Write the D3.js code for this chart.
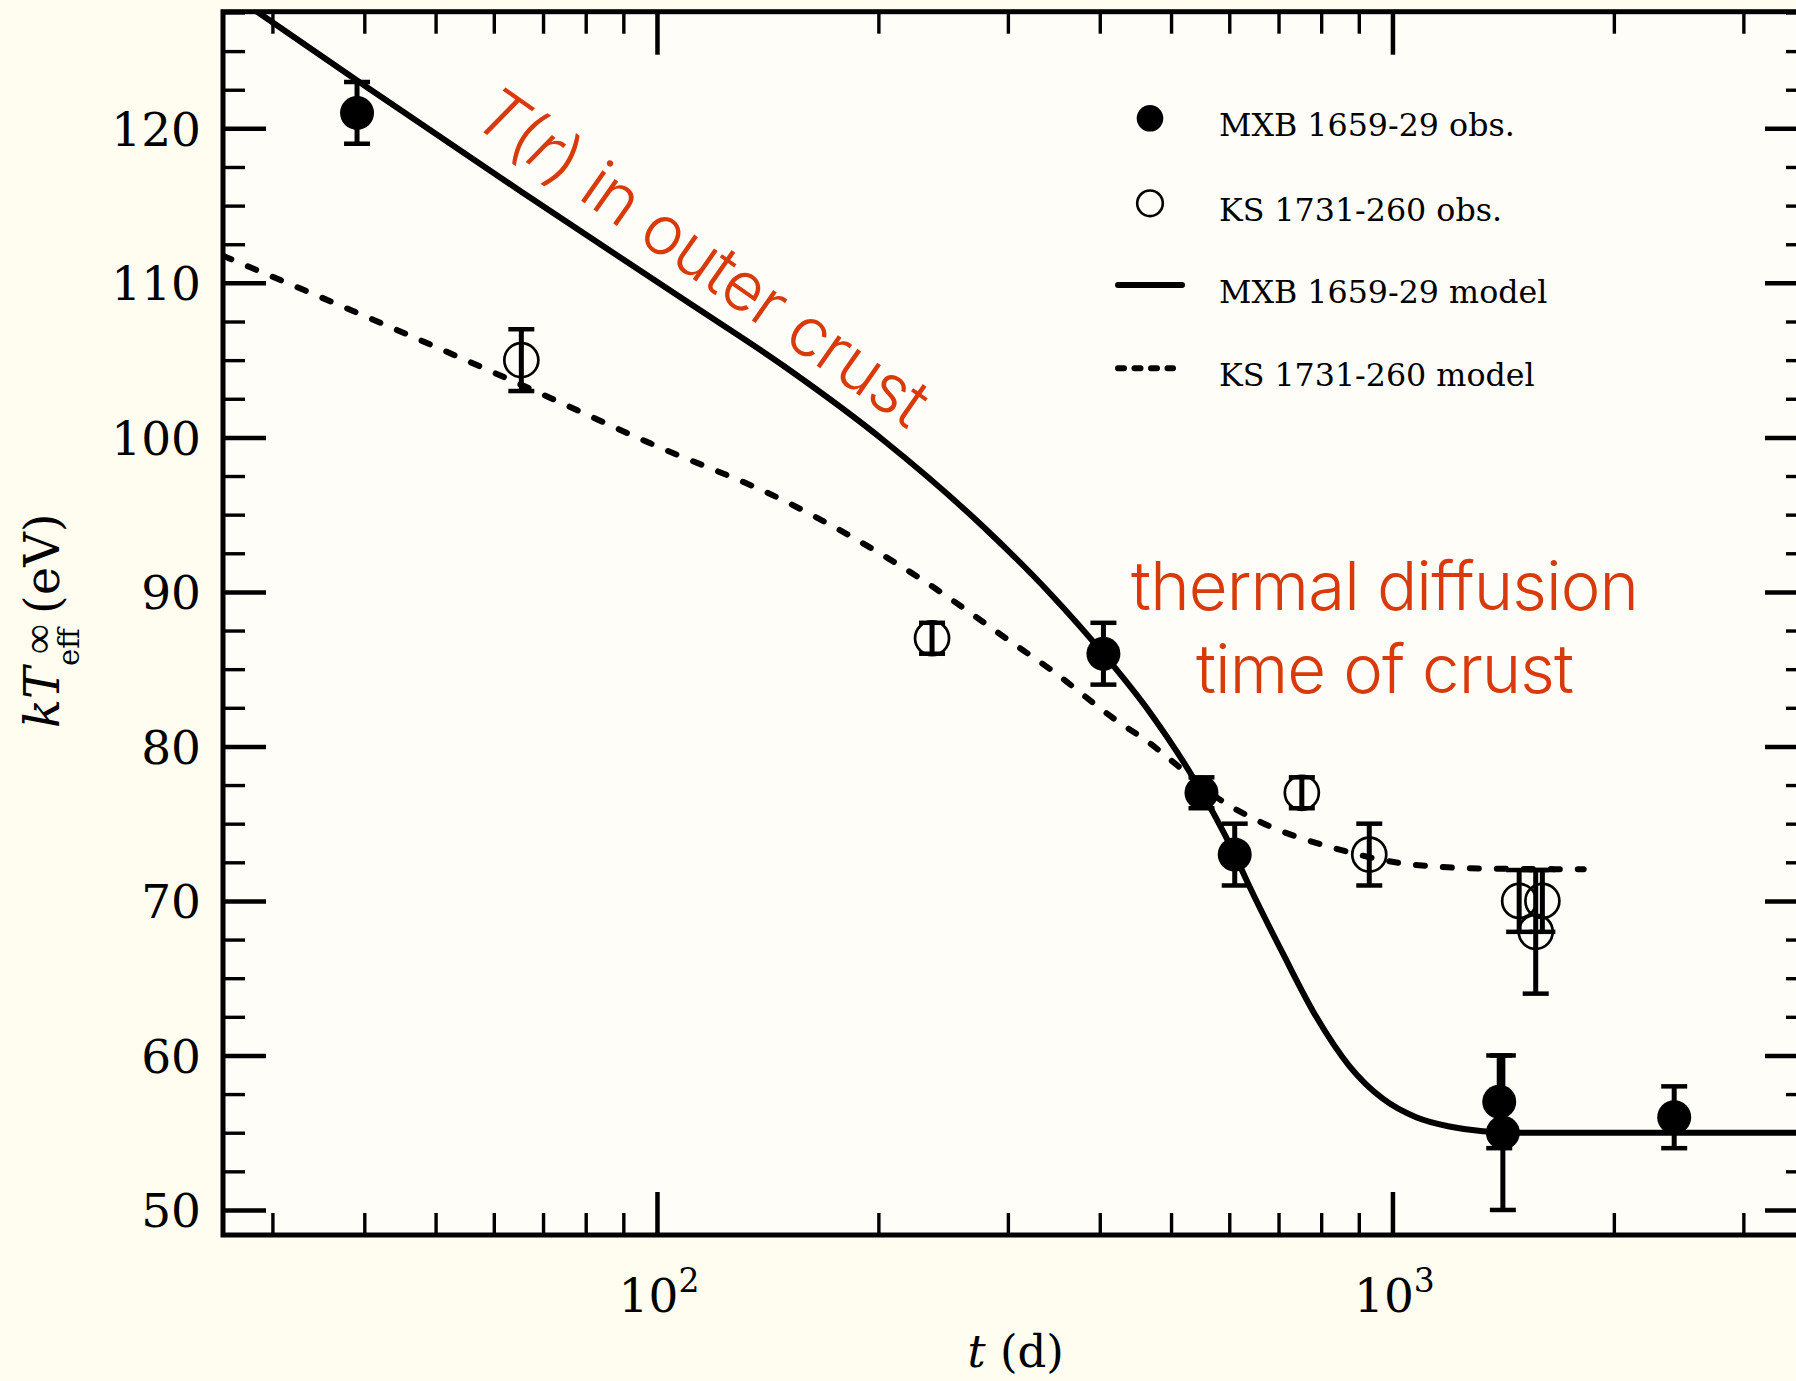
<!DOCTYPE html>
<html><head><meta charset="utf-8">
<script src="https://cdn.jsdelivr.net/npm/d3@7"></script>
<style>
html,body{margin:0;padding:0;background:#fffdf0;}
svg{display:block;}
</style></head><body>
<svg id="chart" width="1796" height="1381"></svg>
<script>
// ---------------- data ----------------
const mxbDays  = [39.1, 404.6, 550, 610.3, 1397, 1413, 2416];
const mxbKT    = [121, 86, 77, 73, 57, 55, 56];
const mxbLow   = [119, 84, 76, 71, 54, 50, 54];
const mxbHigh  = [123, 88, 78, 75, 60, 60, 58];

const ksDays   = [65.4, 236.6, 753, 930, 1487, 1599, 1566];
const ksKT     = [105, 87, 77, 73, 70, 70, 68];
const ksLow    = [103, 86, 76, 71, 68, 68, 64];
const ksHigh   = [107, 88, 78, 75, 72, 72, 72];

const mxbModelDays = [25.7, 28.7, 39.1, 65.4, 108.9, 148.9, 203.4, 278, 342.4, 404.6, 468, 535.4, 610.3, 639.7, 709.6, 787.8, 874.4, 970.3, 1077, 1195, 1327, 1500, 2000, 3000, 3700];
const mxbModelKT   = [129.1, 127.5, 123.1, 115.9, 108.9, 104.6, 99.8, 94.2, 89.9, 86.0, 82.2, 78.0, 73.0, 70.9, 66.6, 62.5, 59.3, 57.2, 56.0, 55.4, 55.1, 55.0, 55.0, 55.0, 55.0];

const ksModelDays = [25.7, 43.1, 65.4, 98.1, 148.9, 225.8, 308.6, 342.4, 418, 468, 512, 577, 669, 836, 1045, 1326, 1820];
const ksModelKT   = [111.75, 107.2, 103.4, 99.6, 95.9, 91.0, 86.5, 85.0, 81.8, 80.2, 78.7, 76.7, 75.0, 73.4, 72.4, 72.1, 72.05];

const yMajorTicks = [50, 60, 70, 80, 90, 100, 110, 120];
const xMajorTicks = [100, 1000];
const xTickExponents = ["2", "3"];
const xMinorTicks = [30, 40, 50, 60, 70, 80, 90, 200, 300, 400, 500, 600, 700, 800, 900, 2000, 3000];

const legendLabels = ["MXB 1659-29 obs.", "KS 1731-260 obs.", "MXB 1659-29 model", "KS 1731-260 model"];
const annotationDiffusion = ["thermal diffusion", "time of crust"];

// ---------------- layout ----------------
const L = 223, R = 1808, TOP = 11.7, BOT = 1235;
const xDomain = [25.7, 3673];
const yDomain = [48.38, 127.55];
const serif = "'DejaVu Serif', 'Liberation Serif', serif";
const sans = "Inter, Roboto, 'Liberation Sans', sans-serif";
const red = "#d93a0b";

const svg = d3.select("#chart");
const x = d3.scaleLog().domain(xDomain).range([L, R]);
const y = d3.scaleLinear().domain(yDomain).range([BOT, TOP]);

svg.append("rect").attr("x", 0).attr("y", 0).attr("width", 1796).attr("height", 1381).attr("fill", "#fffdf0");
svg.append("rect").attr("x", L).attr("y", TOP).attr("width", R - L).attr("height", BOT - TOP).attr("fill", "#fefdf8");

svg.append("clipPath").attr("id", "plotclip").append("rect")
  .attr("x", L).attr("y", TOP).attr("width", R - L).attr("height", BOT - TOP);

const plot = svg.append("g").attr("clip-path", "url(#plotclip)");

const line = d3.line().x(d => x(d[0])).y(d => y(d[1])).curve(d3.curveMonotoneX);

plot.append("path")
  .datum(mxbModelDays.map((t, i) => [t, mxbModelKT[i]]))
  .attr("d", line).attr("fill", "none").attr("stroke", "#000").attr("stroke-width", 6);

plot.append("path")
  .datum(ksModelDays.map((t, i) => [t, ksModelKT[i]]))
  .attr("d", line).attr("fill", "none").attr("stroke", "#000").attr("stroke-width", 6)
  .attr("stroke-linecap", "round").attr("stroke-dasharray", "9,18");

// error bars + markers
function errorBars(days, lo, hi) {
  const g = plot.append("g");
  days.forEach((t, i) => {
    const cx = x(t);
    g.append("line").attr("x1", cx).attr("x2", cx).attr("y1", y(lo[i])).attr("y2", y(hi[i]))
      .attr("stroke", "#000").attr("stroke-width", 5);
    [lo[i], hi[i]].forEach(v => {
      g.append("line").attr("x1", cx - 13).attr("x2", cx + 13).attr("y1", y(v)).attr("y2", y(v))
        .attr("stroke", "#000").attr("stroke-width", 4.5);
    });
  });
}
errorBars(mxbDays, mxbLow, mxbHigh);
errorBars(ksDays, ksLow, ksHigh);

plot.append("g").selectAll("circle").data(mxbDays).join("circle")
  .attr("cx", d => x(d)).attr("cy", (d, i) => y(mxbKT[i])).attr("r", 17).attr("fill", "#000");
plot.append("g").selectAll("circle").data(ksDays).join("circle")
  .attr("cx", d => x(d)).attr("cy", (d, i) => y(ksKT[i])).attr("r", 17)
  .attr("fill", "none").attr("stroke", "#000").attr("stroke-width", 2.7);

// ---------------- annotations ----------------
const ann = svg.append("g").attr("transform", "translate(470,123) rotate(35)");
const at = ann.append("text").attr("x", 0).attr("y", 0)
  .attr("font-family", sans).attr("font-weight", 300).attr("font-size", 68).attr("fill", red)
  .attr("textLength", 535);
at.append("tspan").attr("font-style", "italic").text("T");
at.append("tspan").text("(");
at.append("tspan").attr("font-style", "italic").text("r");
at.append("tspan").text(") in outer crust");

annotationDiffusion.forEach((s, i) => {
  svg.append("text").attr("x", 1385).attr("y", i === 0 ? 610 : 692.7)
    .attr("text-anchor", "middle").attr("font-family", sans).attr("font-weight", 300)
    .attr("font-size", 67).attr("fill", red)
    .attr("textLength", i === 0 ? 508 : 378)
    .text(s);
});

// ---------------- legend ----------------
const legRows = [118.3, 203.3, 285, 368.3];
const leg = svg.append("g");
leg.append("circle").attr("cx", 1150).attr("cy", legRows[0]).attr("r", 13.3).attr("fill", "#000");
leg.append("circle").attr("cx", 1150).attr("cy", legRows[1]).attr("r", 12.8).attr("fill", "none")
  .attr("stroke", "#000").attr("stroke-width", 2.6);
leg.append("line").attr("x1", 1118).attr("x2", 1182).attr("y1", legRows[2]).attr("y2", legRows[2])
  .attr("stroke", "#000").attr("stroke-width", 6).attr("stroke-linecap", "round");
leg.append("line").attr("x1", 1118).attr("x2", 1173).attr("y1", legRows[3]).attr("y2", legRows[3])
  .attr("stroke", "#000").attr("stroke-width", 6).attr("stroke-linecap", "round")
  .attr("stroke-dasharray", "6,10.5");
legendLabels.forEach((s, i) => {
  leg.append("text").attr("x", 1219).attr("y", legRows[i] + 17.5)
    .attr("font-family", serif).attr("font-size", 31.7).attr("fill", "#000").text(s);
});

// ---------------- axes ----------------
const minorYAll = d3.range(47.5, 127.6, 2.5).filter(v => v % 10 !== 0 && v >= yDomain[0] && v <= yDomain[1]);

function styleAxis(g, w) {
  g.select(".domain").remove();
  g.selectAll(".tick line").attr("stroke", "#000").attr("stroke-width", w);
}

// left major
svg.append("g").attr("transform", `translate(${L},0)`)
  .call(d3.axisLeft(y).tickValues(yMajorTicks).tickSizeInner(-43).tickSizeOuter(0).tickPadding(22).tickFormat(d3.format("d")))
  .call(g => { styleAxis(g, 4.5);
    g.selectAll(".tick text").attr("font-family", serif).attr("font-size", 47).attr("fill", "#000").attr("dy", "0.36em"); });
// left minor
svg.append("g").attr("transform", `translate(${L},0)`)
  .call(d3.axisLeft(y).tickValues(minorYAll).tickSizeInner(-22).tickSizeOuter(0).tickFormat(""))
  .call(g => styleAxis(g, 3.4));
// right
svg.append("g").attr("transform", `translate(${R},0)`)
  .call(d3.axisRight(y).tickValues(yMajorTicks).tickSizeInner(-43).tickSizeOuter(0).tickFormat(""))
  .call(g => styleAxis(g, 4.5));
svg.append("g").attr("transform", `translate(${R},0)`)
  .call(d3.axisRight(y).tickValues(minorYAll).tickSizeInner(-22).tickSizeOuter(0).tickFormat(""))
  .call(g => styleAxis(g, 3.4));
// bottom
svg.append("g").attr("transform", `translate(0,${BOT})`)
  .call(d3.axisBottom(x).tickValues(xMajorTicks).tickSizeInner(-43).tickSizeOuter(0).tickFormat(""))
  .call(g => styleAxis(g, 4.5));
svg.append("g").attr("transform", `translate(0,${BOT})`)
  .call(d3.axisBottom(x).tickValues(xMinorTicks).tickSizeInner(-22).tickSizeOuter(0).tickFormat(""))
  .call(g => styleAxis(g, 3.4));
// top
svg.append("g").attr("transform", `translate(0,${TOP})`)
  .call(d3.axisTop(x).tickValues(xMajorTicks).tickSizeInner(-43).tickSizeOuter(0).tickFormat(""))
  .call(g => styleAxis(g, 4.5));
svg.append("g").attr("transform", `translate(0,${TOP})`)
  .call(d3.axisTop(x).tickValues(xMinorTicks).tickSizeInner(-22).tickSizeOuter(0).tickFormat(""))
  .call(g => styleAxis(g, 3.4));

// x tick labels 10^n
xMajorTicks.forEach((t, i) => {
  const tx = svg.append("text").attr("x", x(t) + 2).attr("y", 1311.7).attr("text-anchor", "middle")
    .attr("font-family", serif).attr("font-size", 47).attr("fill", "#000");
  tx.append("tspan").text("10");
  tx.append("tspan").attr("dy", -20).attr("font-size", 33).text(xTickExponents[i]);
});

// frame
svg.append("rect").attr("x", L).attr("y", TOP).attr("width", R - L).attr("height", BOT - TOP)
  .attr("fill", "none").attr("stroke", "#000").attr("stroke-width", 5);

// axis titles
const xt = svg.append("text").attr("x", 1015.7).attr("y", 1367).attr("text-anchor", "middle")
  .attr("font-family", serif).attr("font-size", 45).attr("fill", "#000");
xt.append("tspan").attr("font-style", "italic").text("t");
xt.append("tspan").text(" (d)");

const gy = svg.append("g").attr("transform", "translate(58.5,728) rotate(-90)");
const kT = gy.append("text").attr("x", 0).attr("y", 0).attr("font-family", serif).attr("font-size", 48)
  .attr("font-style", "italic").attr("fill", "#000").text("kT");
let u = kT.node().getComputedTextLength() + 1;
const sub = gy.append("text").attr("x", u).attr("y", 20).attr("font-family", serif).attr("font-size", 29)
  .attr("fill", "#000").text("eff");
const subLen = sub.node().getComputedTextLength();
const sup = gy.append("text").attr("x", u + 12).attr("y", -7).attr("font-family", "'Liberation Serif', serif")
  .attr("font-size", 42).attr("fill", "#000").text("∞");
u += Math.max(subLen, sup.node().getComputedTextLength() + 12) + 10;
gy.append("text").attr("x", u).attr("y", 0).attr("font-family", serif).attr("font-size", 48)
  .attr("fill", "#000").text("(eV)");
</script>
</body></html>
